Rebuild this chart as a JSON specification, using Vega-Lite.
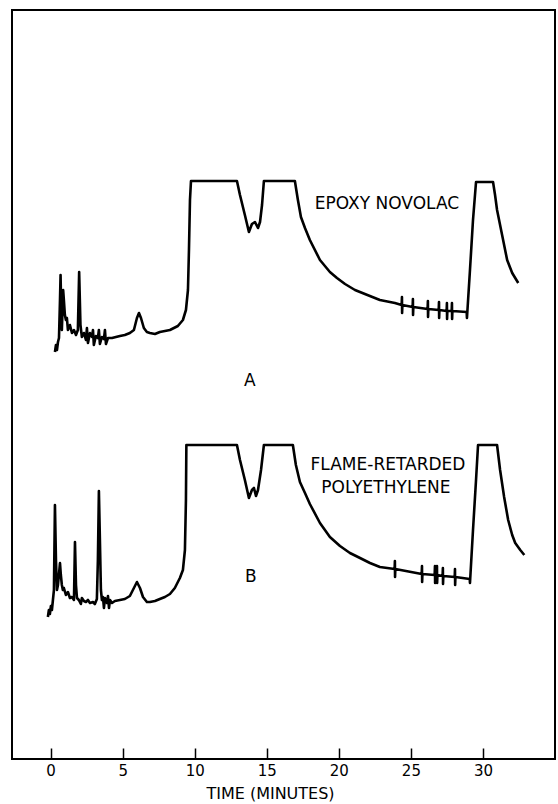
{
  "$schema": "https://vega.github.io/schema/vega-lite/v6.json",
  "width": 543,
  "height": 749,
  "autosize": {"type": "none"},
  "padding": {"left": 12, "top": 10, "right": 3, "bottom": 45},
  "background": "white",
  "config": {"view": {"stroke": "black", "strokeWidth": 2}, "font": "DejaVu Sans"},
  "datasets": {
    "traces": [
      {"trace":"A","time":0.30,"response":407},{"trace":"A","time":0.37,"response":414},{"trace":"A","time":0.44,"response":409},{"trace":"A","time":0.51,"response":417},{"trace":"A","time":0.58,"response":421},{"trace":"A","time":0.65,"response":459},{"trace":"A","time":0.69,"response":484},{"trace":"A","time":0.75,"response":439},{"trace":"A","time":0.78,"response":429},{"trace":"A","time":0.87,"response":469},{"trace":"A","time":0.92,"response":459},{"trace":"A","time":0.99,"response":444},{"trace":"A","time":1.06,"response":439},{"trace":"A","time":1.13,"response":441},{"trace":"A","time":1.20,"response":429},{"trace":"A","time":1.34,"response":434},{"trace":"A","time":1.48,"response":426},{"trace":"A","time":1.62,"response":429},{"trace":"A","time":1.76,"response":424},{"trace":"A","time":1.89,"response":429},{"trace":"A","time":1.98,"response":487},{"trace":"A","time":2.07,"response":434},{"trace":"A","time":2.17,"response":422},{"trace":"A","time":2.31,"response":426},{"trace":"A","time":2.45,"response":419},{"trace":"A","time":2.52,"response":431},{"trace":"A","time":2.59,"response":416},{"trace":"A","time":2.73,"response":426},{"trace":"A","time":2.87,"response":422},{"trace":"A","time":2.94,"response":429},{"trace":"A","time":3.00,"response":414},{"trace":"A","time":3.14,"response":423},{"trace":"A","time":3.28,"response":421},{"trace":"A","time":3.35,"response":429},{"trace":"A","time":3.42,"response":415},{"trace":"A","time":3.56,"response":422},{"trace":"A","time":3.70,"response":420},{"trace":"A","time":3.77,"response":429},{"trace":"A","time":3.84,"response":415},{"trace":"A","time":3.98,"response":421},{"trace":"A","time":4.26,"response":421},{"trace":"A","time":4.53,"response":422},{"trace":"A","time":4.81,"response":423},{"trace":"A","time":5.15,"response":424},{"trace":"A","time":5.50,"response":426},{"trace":"A","time":5.78,"response":429},{"trace":"A","time":5.99,"response":441},{"trace":"A","time":6.13,"response":446},{"trace":"A","time":6.27,"response":441},{"trace":"A","time":6.47,"response":431},{"trace":"A","time":6.68,"response":427},{"trace":"A","time":6.89,"response":426},{"trace":"A","time":7.24,"response":425},{"trace":"A","time":7.58,"response":427},{"trace":"A","time":8.28,"response":429},{"trace":"A","time":8.83,"response":433},{"trace":"A","time":9.18,"response":439},{"trace":"A","time":9.39,"response":449},{"trace":"A","time":9.53,"response":469},{"trace":"A","time":9.60,"response":509},{"trace":"A","time":9.67,"response":559},{"trace":"A","time":9.74,"response":578},{"trace":"A","time":12.93,"response":578},{"trace":"A","time":13.14,"response":564},{"trace":"A","time":13.48,"response":544},{"trace":"A","time":13.76,"response":527},{"trace":"A","time":13.97,"response":535},{"trace":"A","time":14.18,"response":537},{"trace":"A","time":14.39,"response":531},{"trace":"A","time":14.53,"response":537},{"trace":"A","time":14.67,"response":554},{"trace":"A","time":14.80,"response":578},{"trace":"A","time":16.95,"response":578},{"trace":"A","time":17.16,"response":559},{"trace":"A","time":17.37,"response":542},{"trace":"A","time":17.65,"response":531},{"trace":"A","time":17.99,"response":519},{"trace":"A","time":18.69,"response":499},{"trace":"A","time":19.38,"response":487},{"trace":"A","time":19.87,"response":481},{"trace":"A","time":20.43,"response":475},{"trace":"A","time":21.12,"response":469},{"trace":"A","time":21.81,"response":465},{"trace":"A","time":22.85,"response":459},{"trace":"A","time":23.89,"response":456},
      {"trace":"A","time":24.36,"response":454},{"trace":"A","time":24.38,"response":462},{"trace":"A","time":24.39,"response":446},{"trace":"A","time":24.41,"response":454},
      {"trace":"A","time":25.12,"response":452},{"trace":"A","time":25.14,"response":460},{"trace":"A","time":25.15,"response":444},{"trace":"A","time":25.17,"response":452},
      {"trace":"A","time":26.16,"response":450},{"trace":"A","time":26.18,"response":458},{"trace":"A","time":26.19,"response":442},{"trace":"A","time":26.21,"response":450},
      {"trace":"A","time":26.93,"response":449},{"trace":"A","time":26.95,"response":457},{"trace":"A","time":26.96,"response":441},{"trace":"A","time":26.98,"response":449},
      {"trace":"A","time":27.48,"response":448},{"trace":"A","time":27.50,"response":456},{"trace":"A","time":27.51,"response":440},{"trace":"A","time":27.53,"response":448},
      {"trace":"A","time":27.83,"response":448},{"trace":"A","time":27.85,"response":456},{"trace":"A","time":27.86,"response":440},{"trace":"A","time":27.88,"response":448},
      {"trace":"A","time":28.87,"response":447},{"trace":"A","time":28.89,"response":441},{"trace":"A","time":29.10,"response":489},{"trace":"A","time":29.31,"response":539},{"trace":"A","time":29.52,"response":577},{"trace":"A","time":30.70,"response":577},{"trace":"A","time":30.84,"response":564},{"trace":"A","time":30.98,"response":549},{"trace":"A","time":31.33,"response":524},{"trace":"A","time":31.68,"response":499},{"trace":"A","time":32.03,"response":486},{"trace":"A","time":32.45,"response":476},
      {"trace":"B","time":-0.19,"response":142},{"trace":"B","time":-0.12,"response":149},{"trace":"B","time":-0.05,"response":145},{"trace":"B","time":0.02,"response":153},{"trace":"B","time":0.09,"response":149},{"trace":"B","time":0.16,"response":159},{"trace":"B","time":0.23,"response":169},{"trace":"B","time":0.30,"response":254},{"trace":"B","time":0.37,"response":199},{"trace":"B","time":0.44,"response":169},{"trace":"B","time":0.51,"response":174},{"trace":"B","time":0.65,"response":196},{"trace":"B","time":0.71,"response":184},{"trace":"B","time":0.78,"response":174},{"trace":"B","time":0.85,"response":169},{"trace":"B","time":0.92,"response":171},{"trace":"B","time":1.06,"response":164},{"trace":"B","time":1.20,"response":167},{"trace":"B","time":1.34,"response":161},{"trace":"B","time":1.48,"response":162},{"trace":"B","time":1.62,"response":159},{"trace":"B","time":1.69,"response":217},{"trace":"B","time":1.76,"response":174},{"trace":"B","time":1.83,"response":161},{"trace":"B","time":1.96,"response":159},{"trace":"B","time":2.10,"response":155},{"trace":"B","time":2.17,"response":161},{"trace":"B","time":2.31,"response":158},{"trace":"B","time":2.45,"response":157},{"trace":"B","time":2.59,"response":159},{"trace":"B","time":2.73,"response":156},{"trace":"B","time":2.94,"response":157},{"trace":"B","time":3.07,"response":155},{"trace":"B","time":3.21,"response":160},{"trace":"B","time":3.28,"response":199},{"trace":"B","time":3.35,"response":268},{"trace":"B","time":3.42,"response":219},{"trace":"B","time":3.49,"response":169},{"trace":"B","time":3.56,"response":159},{"trace":"B","time":3.63,"response":162},{"trace":"B","time":3.70,"response":151},{"trace":"B","time":3.77,"response":161},{"trace":"B","time":3.91,"response":156},{"trace":"B","time":3.98,"response":163},{"trace":"B","time":4.05,"response":151},{"trace":"B","time":4.12,"response":159},{"trace":"B","time":4.26,"response":156},{"trace":"B","time":4.46,"response":158},{"trace":"B","time":4.81,"response":159},{"trace":"B","time":5.15,"response":160},{"trace":"B","time":5.50,"response":163},{"trace":"B","time":5.78,"response":171},{"trace":"B","time":5.99,"response":177},{"trace":"B","time":6.20,"response":171},{"trace":"B","time":6.41,"response":162},{"trace":"B","time":6.68,"response":157},{"trace":"B","time":6.89,"response":157},{"trace":"B","time":7.24,"response":158},{"trace":"B","time":7.58,"response":160},{"trace":"B","time":7.93,"response":162},{"trace":"B","time":8.28,"response":165},{"trace":"B","time":8.62,"response":171},{"trace":"B","time":8.97,"response":181},{"trace":"B","time":9.18,"response":189},{"trace":"B","time":9.32,"response":209},{"trace":"B","time":9.39,"response":259},{"trace":"B","time":9.42,"response":314},{"trace":"B","time":12.93,"response":314},{"trace":"B","time":13.14,"response":299},{"trace":"B","time":13.48,"response":279},{"trace":"B","time":13.76,"response":261},{"trace":"B","time":13.97,"response":269},{"trace":"B","time":14.11,"response":271},{"trace":"B","time":14.25,"response":263},{"trace":"B","time":14.39,"response":269},{"trace":"B","time":14.60,"response":289},{"trace":"B","time":14.80,"response":314},{"trace":"B","time":16.81,"response":314},{"trace":"B","time":17.02,"response":294},{"trace":"B","time":17.30,"response":277},{"trace":"B","time":17.65,"response":266},{"trace":"B","time":17.99,"response":255},{"trace":"B","time":18.69,"response":236},{"trace":"B","time":19.38,"response":222},{"trace":"B","time":20.08,"response":213},{"trace":"B","time":20.77,"response":206},{"trace":"B","time":21.47,"response":201},{"trace":"B","time":22.16,"response":196},{"trace":"B","time":22.85,"response":192},
      {"trace":"B","time":23.87,"response":190},{"trace":"B","time":23.89,"response":198},{"trace":"B","time":23.90,"response":182},{"trace":"B","time":23.92,"response":190},
      {"trace":"B","time":25.75,"response":185},{"trace":"B","time":25.77,"response":193},{"trace":"B","time":25.78,"response":177},{"trace":"B","time":25.80,"response":185},
      {"trace":"B","time":26.65,"response":184},{"trace":"B","time":26.67,"response":193},{"trace":"B","time":26.68,"response":176},{"trace":"B","time":26.70,"response":184},
      {"trace":"B","time":26.79,"response":184},{"trace":"B","time":26.81,"response":193},{"trace":"B","time":26.82,"response":176},{"trace":"B","time":26.84,"response":184},
      {"trace":"B","time":27.20,"response":183},{"trace":"B","time":27.22,"response":191},{"trace":"B","time":27.23,"response":175},{"trace":"B","time":27.25,"response":183},
      {"trace":"B","time":28.04,"response":182},{"trace":"B","time":28.06,"response":190},{"trace":"B","time":28.07,"response":174},{"trace":"B","time":28.09,"response":182},
      {"trace":"B","time":29.08,"response":180},{"trace":"B","time":29.10,"response":176},{"trace":"B","time":29.31,"response":229},{"trace":"B","time":29.52,"response":279},{"trace":"B","time":29.66,"response":314},{"trace":"B","time":30.98,"response":314},{"trace":"B","time":31.19,"response":289},{"trace":"B","time":31.47,"response":262},{"trace":"B","time":31.75,"response":239},{"trace":"B","time":32.03,"response":224},{"trace":"B","time":32.24,"response":216},{"trace":"B","time":32.59,"response":209},{"trace":"B","time":32.87,"response":204}
    ],
    "labels": [
      {"label":"EPOXY NOVOLAC","time":23.34,"response":555},
      {"label":"FLAME-RETARDED","time":23.41,"response":294},
      {"label":"POLYETHYLENE","time":23.27,"response":271},
      {"label":"A","time":13.83,"response":378},
      {"label":"B","time":13.90,"response":182}
    ]
  },
  "layer": [
    {
      "data": {"name": "traces"},
      "mark": {"type": "line", "color": "black", "strokeWidth": 2.6, "strokeJoin": "round"},
      "encoding": {
        "x": {"field": "time", "type": "quantitative",
          "scale": {"domain": [-2.68, 35], "nice": false, "zero": false},
          "axis": {"values": [0,5,10,15,20,25,30], "title": "TIME (MINUTES)", "tickSize": -11, "tickWidth": 1.5, "tickColor": "black", "domain": false, "grid": false, "labelFontSize": 15, "labelColor": "black", "labelPadding": 15, "labelFont": "DejaVu Sans", "titleFont": "DejaVu Sans", "titleFontSize": 16, "titleFontWeight": "normal", "titleColor": "black", "titlePadding": 7, "titleX": 258}},
        "y": {"field": "response", "type": "quantitative", "scale": {"domain": [0, 749], "nice": false, "zero": false}, "axis": null},
        "detail": {"field": "trace"},
        "order": {"field": "time"}
      }
    },
    {
      "data": {"name": "labels"},
      "mark": {"type": "text", "fontSize": 17, "font": "DejaVu Sans", "color": "black"},
      "encoding": {
        "x": {"field": "time", "type": "quantitative"},
        "y": {"field": "response", "type": "quantitative"},
        "text": {"field": "label"}
      }
    }
  ]
}
